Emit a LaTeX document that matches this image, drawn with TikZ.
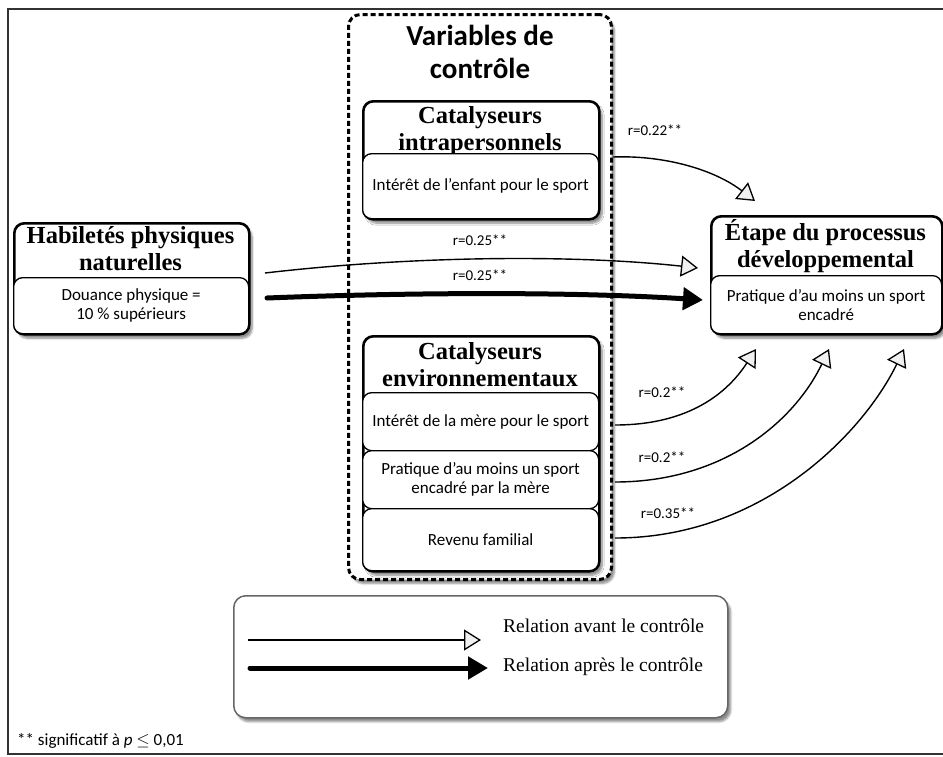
\documentclass[tikz,border=0pt]{standalone}
\usepackage{fontspec}
\setmainfont{Carlito}
\newfontfamily\lserif{Liberation Serif}
\usetikzlibrary{arrows.meta,shadows.blur}
\newcommand{\bodyfnt}{\fontsize{17}{19}\selectfont}
\newcommand{\hdrfnt}{\lserif\bfseries\fontsize{24.5}{27}\selectfont}
\newcommand{\titlefnt}{\bfseries\fontsize{29}{33}\selectfont}
\newcommand{\lblfnt}{\fontsize{15}{17}\selectfont}
\newcommand{\legfnt}{\lserif\fontsize{19.5}{22}\selectfont}
\begin{document}
\begin{tikzpicture}[x=1pt,y=-1pt,
  shad/.style={blur shadow={shadow blur steps=6, shadow xshift=3pt, shadow yshift=-4pt, shadow opacity=45}},
  outer/.style={draw, line width=2.6pt, rounded corners=10pt, fill=white, inner sep=0pt, anchor=north west, shad},
  inner/.style={draw, line width=1.3pt, rounded corners=9pt, fill=white, inner sep=0pt, anchor=north west, align=center, font=\bodyfnt},
  hdr/.style={font=\hdrfnt, align=center, inner sep=0pt},
  lbl/.style={font=\lblfnt, inner sep=0pt},
  dashbox/.style={draw, fill=white, line width=3pt, dash pattern=on 5pt off 3pt, rounded corners=12pt, inner sep=0pt, anchor=north west, shad},
  thinarrow/.style={line width=1.4pt, -{Triangle[length=17pt,width=21pt,fill=gray!12,line width=1.3pt]}},
  thickarrow/.style={line width=5pt, line cap=round, -{Triangle[length=20pt,width=22pt,fill=black]}},
]
\useasboundingbox (0,0) rectangle (943,756);
% frame
\draw[line width=1.3pt, black!80] (943,9) -- (8,9) -- (8,754) -- (943,754);

% control variables dashed box
\node[dashbox, minimum width=263pt, minimum height=565pt] (ctrl) at (347,13) {};
\node[font=\titlefnt, align=center, inner sep=0pt] (ctrlt) at (480,52) {Variables de\\contrôle};

% intrapersonnels
\node[outer, minimum width=236pt, minimum height=118pt] (intra) at (362,100) {};
\node[hdr] (intrah) at (480,131) {Catalyseurs\\intrapersonnels};
\node[inner, minimum width=236pt, minimum height=65pt] (intrai) at (362,153) {Intérêt de l’enfant pour le sport};

% habiletes
\node[outer, minimum width=235pt, minimum height=111pt] (hab) at (13,222) {};
\node[hdr] (habh) at (130.5,249) {Habiletés physiques\\naturelles};
\node[inner, minimum width=235pt, minimum height=56pt] (habi) at (13,277) {Douance physique =\\10 \% supérieurs};

% etape
\node[outer, minimum width=231pt, minimum height=118pt] (etape) at (710,215) {};
\node[hdr] (etapeh) at (825.5,246) {Étape du processus\\développemental};
\node[inner, minimum width=231pt, minimum height=58pt] (etapei) at (710,275) {Pratique d’au moins un sport\\encadré};

% environnementaux
\node[outer, minimum width=236pt, minimum height=235pt] (env) at (362,335) {};
\node[hdr] (envh) at (480,365) {Catalyseurs\\environnementaux};
\node[inner, minimum width=236pt, minimum height=58pt] (env1) at (362,392) {Intérêt de la mère pour le sport};
\node[inner, minimum width=236pt, minimum height=58pt] (env2) at (362,450) {Pratique d’au moins un sport\\encadré par la mère};
\node[inner, minimum width=236pt, minimum height=62pt] (env3) at (362,508) {Revenu familial};

% arrow end points
\coordinate (a1s) at (613,157);
\coordinate (a1e) at (755,201);
\coordinate (a2s) at (265,273);
\coordinate (a2e) at (698,268);
\coordinate (a3s) at (267,298);
\coordinate (a3e) at (703,300);
\coordinate (b1s) at (615,425);
\coordinate (b1e) at (756,349);
\coordinate (b2s) at (615,482);
\coordinate (b2e) at (829,349);
\coordinate (b3s) at (615,538);
\coordinate (b3e) at (904,349);

\draw[thinarrow] (a1s) .. controls (665,155) and (715,170) .. (a1e);
\draw[thinarrow] (a2s) .. controls (420,255) and (580,255) .. (a2e);
\draw[thickarrow] (a3s) .. controls (420,292) and (580,292) .. (a3e);
\draw[thinarrow] (b1s) .. controls (690,425) and (728,392) .. (b1e);
\draw[thinarrow] (b2s) .. controls (725,482) and (795,420) .. (b2e);
\draw[thinarrow] (b3s) .. controls (765,538) and (865,430) .. (b3e);

\node[lbl] (l1) at (655,130) {r=0.22**};
\node[lbl] (l2) at (480,240) {r=0.25**};
\node[lbl] (l3) at (480,275) {r=0.25**};
\node[lbl] (l4) at (662,392) {r=0.2**};
\node[lbl] (l5) at (662,457) {r=0.2**};
\node[lbl] (l6) at (668,513) {r=0.35**};

% legend
\node[draw=black!60, line width=1.5pt, rounded corners=12pt, fill=white, inner sep=0pt, anchor=north west, minimum width=494pt, minimum height=122pt, shad] (leg) at (233,595) {};
\coordinate (g1s) at (248,640);
\coordinate (g1e) at (481,640);
\coordinate (g2s) at (250,668);
\coordinate (g2e) at (488,668);
\draw[thinarrow] (g1s) -- (g1e);
\draw[thickarrow] (g2s) -- (g2e);
\node[font=\legfnt, anchor=west, inner sep=0pt] (legt1) at (503,626) {Relation avant le contrôle};
\node[font=\legfnt, anchor=west, inner sep=0pt] (legt2) at (503,667) {Relation après le contrôle};

% footnote
\node[font=\fontsize{17}{19}\selectfont, anchor=west, inner sep=0pt] (foot) at (17,741) {** significatif à {\itshape p} \ensuremath{\leq} 0,01};
\end{tikzpicture}
\end{document}
